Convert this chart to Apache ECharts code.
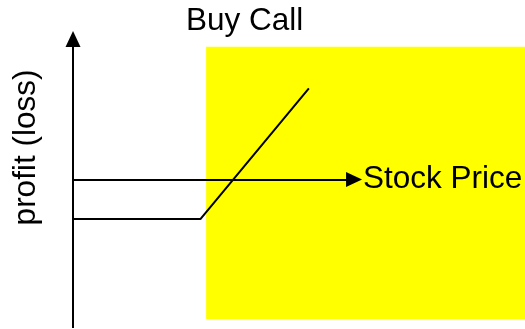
<!DOCTYPE html>
<html>
<head>
<meta charset="utf-8">
<script src="https://cdn.jsdelivr.net/npm/echarts@6/dist/echarts.min.js"></script>
<style>
html, body { margin: 0; padding: 0; background: #fff; }
#chart { width: 525px; height: 329px; }
</style>
</head>
<body>
<div id="chart"></div>
<script>
// 看涨期权收益图
var priceRange = [0, 110];
var profitRange = [-30, 30];
var payoffPrices = [0, 31, 57.4];
var payoffProfits = [-8, -8, 18.4];
var shadeFrom = [32.4, 26.8];
var shadeTo = [110, -28.2];
var profitAxisEnd = [[0, -30], [0, 28.4]];
var priceAxisEnd = [[0, 0], [68.4, 0]];

var font = '"Liberation Sans", Arial, sans-serif';
var chart = echarts.init(document.getElementById('chart'));

var payoff = payoffPrices.map(function (p, i) { return [p, payoffProfits[i]]; });

var option = {
    animation: false,
    title: {
        text: 'Buy Call',
        left: 186,
        top: 5,
        padding: 0,
        textStyle: { fontFamily: font, fontSize: 31.5, fontWeight: 'normal', color: '#000' }
    },
    grid: { left: 73, right: 0, top: 31, bottom: 1 },
    xAxis: { type: 'value', min: priceRange[0], max: priceRange[1], show: false },
    yAxis: { type: 'value', min: profitRange[0], max: profitRange[1], show: false },
    graphic: [{
        type: 'text',
        x: 26,
        y: 147.5,
        rotation: Math.PI / 2,
        style: {
            text: 'profit (loss)',
            font: '31.5px ' + font,
            fill: '#000',
            align: 'center',
            verticalAlign: 'middle'
        }
    }],
    series: [{
        type: 'line',
        data: payoff,
        symbol: 'none',
        clip: false,
        z: 3,
        lineStyle: { color: '#000', width: 2 },
        markArea: {
            silent: true,
            itemStyle: { color: '#ffff00' },
            data: [[{ coord: shadeFrom }, { coord: shadeTo }]]
        }
    }, {
        type: 'lines',
        coordinateSystem: 'cartesian2d',
        clip: false,
        z: 4,
        symbol: ['none', 'triangle'],
        symbolSize: [0, [15, 16]],
        lineStyle: { color: '#000', width: 2, opacity: 1 },
        data: [
            { coords: profitAxisEnd },
            {
                coords: priceAxisEnd,
                label: {
                    show: true,
                    position: 'end',
                    distance: 9,
                    formatter: 'Stock Price',
                    fontFamily: font,
                    fontSize: 31.5,
                    color: '#000',
                    padding: [0, 0, 14, 0]
                }
            }
        ]
    }]
};
chart.setOption(option);
</script>
</body>
</html>
